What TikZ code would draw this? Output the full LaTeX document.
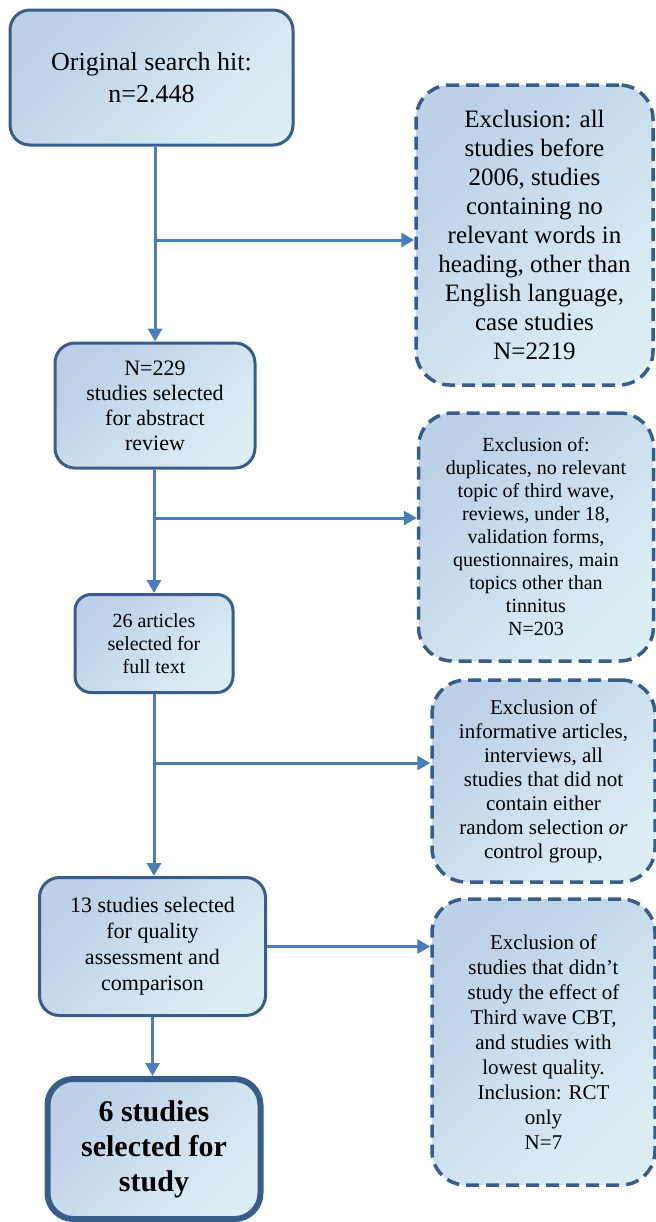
\documentclass[tikz,border=0pt]{standalone}
\usepackage{fontspec}
\setmainfont{Liberation Serif}
\usetikzlibrary{arrows.meta, calc}

\definecolor{boxline}{RGB}{56,93,138}
\definecolor{arrowblue}{RGB}{74,126,187}
\definecolor{boxdark}{RGB}{188,208,231}
\definecolor{boxlight}{RGB}{220,238,244}

\begin{document}
\begin{tikzpicture}[
    x=0.5pt, y=-0.5pt,
    stage/.style={rectangle, draw=boxline, line width=1.5pt, rounded corners=10pt,
        left color=boxdark, right color=boxlight, shading angle=45,
        align=center, inner sep=2pt},
    exclusion/.style={stage, line width=1.75pt, dash pattern=on 6.5pt off 3.5pt, rounded corners=17pt},
    final/.style={stage, line width=3pt, rounded corners=13pt, font=\fontsize{15}{17.5}\selectfont\bfseries},
    arrow/.style={-{Triangle[length=6.5pt, width=7pt]}, draw=arrowblue, line width=1.5pt}
]
\useasboundingbox (0,0) rectangle (655,1222);

\node[stage, minimum width=141.5pt, minimum height=67.5pt, font=\fontsize{13}{16}\selectfont] (orig) at (151.5,77.5)
    {Original search hit:\\ n=2.448};
\node[exclusion, minimum width=118.5pt, minimum height=150pt, font=\fontsize{12.5}{14.5}\selectfont] (excl1) at (534.5,235)
    {Exclusion: all\\ studies before\\ 2006, studies\\ containing no\\ relevant words in\\ heading, other than\\ English language,\\ case studies\\ N=2219};
\node[stage, minimum width=100pt, minimum height=62.5pt, font=\fontsize{11}{12.5}\selectfont] (abstract) at (155,405.5)
    {N=229\\ studies selected\\ for abstract\\ review};
\node[exclusion, minimum width=117.5pt, minimum height=124pt, font=\fontsize{10}{11.5}\selectfont] (excl2) at (536,537)
    {Exclusion of:\\ duplicates, no relevant\\ topic of third wave,\\ reviews, under 18,\\ validation forms,\\ questionnaires, main\\ topics other than\\ tinnitus\\ N=203};
\node[stage, minimum width=79pt, minimum height=49pt, rounded corners=8pt, font=\fontsize{10}{11.5}\selectfont] (fulltext) at (154,643.5)
    {26 articles\\ selected for\\ full text};
\node[exclusion, minimum width=111.5pt, minimum height=101pt, font=\fontsize{10.5}{12}\selectfont] (excl3) at (543.5,781)
    {Exclusion of\\ informative articles,\\ interviews, all\\ studies that did not\\ contain either\\ random selection \textit{or}\\ control group,};
\node[stage, minimum width=113pt, minimum height=69pt, font=\fontsize{11}{13}\selectfont] (quality) at (152.5,946.5)
    {13 studies selected\\ for quality\\ assessment and\\ comparison};
\node[exclusion, minimum width=111.5pt, minimum height=143pt, font=\fontsize{10.5}{12.5}\selectfont] (excl4) at (543.5,1042)
    {Exclusion of\\ studies that didn’t\\ study the effect of\\ Third wave CBT,\\ and studies with\\ lowest quality.\\ Inclusion: RCT\\ only\\ N=7};
\node[final, minimum width=106.5pt, minimum height=70pt] (selected) at (154,1149)
    {6 studies\\ selected for\\ study};

\coordinate (split1) at (155,240);
\coordinate (split2) at (155,518);
\coordinate (split3) at (155,763);

\draw[arrow] (abstract.north |- orig.south) -- (abstract.north);
\draw[arrow] (split1) -- (split1 -| excl1.west);
\draw[arrow] (fulltext.north |- abstract.south) -- (fulltext.north);
\draw[arrow] (split2) -- (split2 -| excl2.west);
\draw[arrow] (fulltext.south) -- (fulltext.south |- quality.north);
\draw[arrow] (split3) -- (split3 -| excl3.west);
\draw[arrow] (quality.east) -- (quality.east -| excl4.west);
\draw[arrow] (quality.south) -- (quality.south |- selected.north);

\end{tikzpicture}
\end{document}
